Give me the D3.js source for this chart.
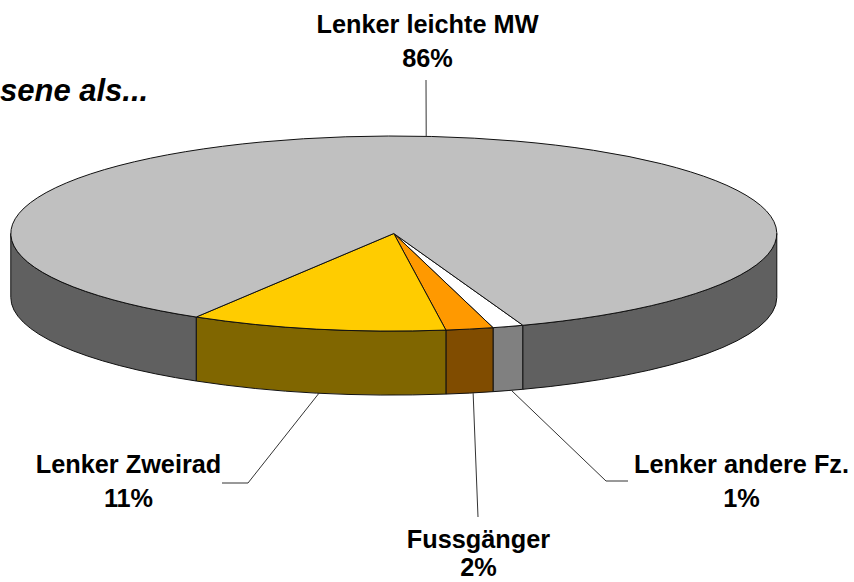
<!DOCTYPE html>
<html><head><meta charset="utf-8">
<script src="https://cdn.jsdelivr.net/npm/d3@7"></script>
<style>html,body{margin:0;padding:0;background:#fff}svg{display:block}</style>
</head><body><svg id="c" width="854" height="582"></svg>
<script>
const categories = ["Lenker andere Fz.", "Fussgänger", "Lenker Zweirad", "Lenker leichte MW"];
const shownLabels = ["1%", "2%", "11%", "86%"];
const values = [1.3, 2.0, 10.8, 85.9];
const topColors = ["#FFFFFF", "#FF9900", "#FFCC00", "#C0C0C0"];
const sideColors = ["#808080", "#804C00", "#806600", "#606060"];
const titleText = "sene als...";

const cx = 393.8, cy = 233.5, rx = 383, ry = 97.5, depth = 64;
const svg = d3.select("#c");
const pie = d3.pie().sort(null).value(d => d).startAngle(160.3 * Math.PI / 180).endAngle((160.3 + 360) * Math.PI / 180);
const arcs = pie(values);

const px = a => cx + rx * Math.sin(a);
const py = (a, z = 0) => cy - ry * Math.cos(a) + z;
const ell = `A${rx},${ry} 0`;

function wall(a0, a1) {
  const large = a1 - a0 > Math.PI ? 1 : 0;
  return `M${px(a0)},${py(a0)} ${ell} ${large} 1 ${px(a1)},${py(a1)} L${px(a1)},${py(a1, depth)} ${ell} ${large} 0 ${px(a0)},${py(a0, depth)}Z`;
}
function wedge(a0, a1) {
  const large = a1 - a0 > Math.PI ? 1 : 0;
  return `M${cx},${cy} L${px(a0)},${py(a0)} ${ell} ${large} 1 ${px(a1)},${py(a1)}Z`;
}
// Visible front wall runs between the ellipse extremes (pie angles 90deg and 270deg, and again one turn on)
const hpi = Math.PI / 2, tpi = Math.PI * 2;
const walls = [];
arcs.forEach((d, i) => {
  [0, tpi].forEach(shift => {
    const a0 = Math.max(d.startAngle, hpi + shift), a1 = Math.min(d.endAngle, 3 * hpi + shift);
    if (a1 > a0) walls.push({i, a0, a1});
  });
});
svg.append("g").selectAll("path").data(walls).join("path")
  .attr("d", d => wall(d.a0, d.a1))
  .attr("fill", d => sideColors[d.i])
  .attr("stroke", "#111").attr("stroke-width", 1).attr("stroke-linejoin", "round");
svg.append("g").selectAll("path").data(arcs).join("path")
  .attr("d", d => wedge(d.startAngle, d.endAngle))
  .attr("fill", (d, i) => topColors[i])
  .attr("stroke", "#111").attr("stroke-width", 1).attr("stroke-linejoin", "round");

const mid = d => (d.startAngle + d.endAngle) / 2;
const isFront = d => { const m = mid(d) % tpi; return m > hpi && m < 3 * hpi; };
// Leader bends and label anchors (layout only)
const leaderLayout = [
  {dx: 3.5, pts: [[606, 481], [628, 481]], lx: 741.5, ly: 473, gap: 34},
  {dx: 3.5, pts: [[478, 517]], lx: 478.5, ly: 548, gap: 28},
  {dx: 2.5, pts: [[248, 483], [222, 483]], lx: 128.5, ly: 473, gap: 34},
  {dx: -5.5, pts: [[426, 80]], lx: 427.5, ly: 33, gap: 34}
];
svg.append("g").selectAll("path").data(arcs).join("path")
  .attr("d", (d, i) => {
    const m = mid(d), l = leaderLayout[i];
    return d3.line()([[px(m) + l.dx, py(m, isFront(d) ? depth : 0)], ...l.pts]);
  })
  .attr("fill", "none").attr("stroke", "#333").attr("stroke-width", 1);

const font = "'Liberation Sans', Arial, sans-serif";
const lab = svg.append("g").attr("font-family", font).attr("font-weight", "bold").attr("font-size", 25.3).attr("text-anchor", "middle").attr("fill", "#000");
categories.forEach((c, i) => {
  const l = leaderLayout[i];
  lab.append("text").attr("x", l.lx).attr("y", l.ly).text(c);
  lab.append("text").attr("x", l.lx).attr("y", l.ly + l.gap).text(shownLabels[i]);
});
svg.append("text").attr("x", 0).attr("y", 101).attr("font-family", font).attr("font-weight", "bold").attr("font-style", "italic").attr("font-size", 31).text(titleText);
</script></body></html>
